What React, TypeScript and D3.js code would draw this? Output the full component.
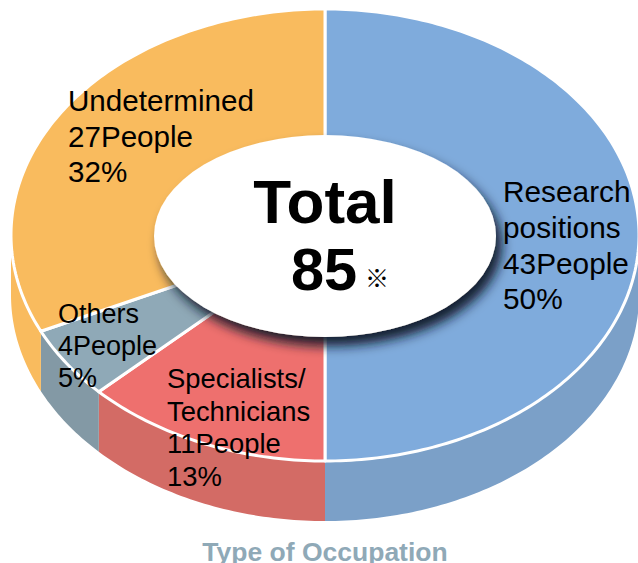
import React from "react";
import * as d3 from "d3";

const categories = ["Research", "Specialists", "Others", "Undetermined"];
const shares = [50, 12.8, 5.2, 32];
const topColors = ["#7FABDC", "#EE706E", "#8FA9B7", "#F9BB5E"];
const sideColors = ["#7BA0C8", "#D36B65", "#8399A5", "#F9BB5E"];
const labelLines = [
  ["Research", "positions", "43People", "50%"],
  ["Specialists/", "Technicians", "11People", "13%"],
  ["Others", "4People", "5%"],
  ["Undetermined", "27People", "32%"],
];
const labelPos = [
  { x: 503, y: 202, size: 29.8, lh: 35.8 },
  { x: 167, y: 388, size: 27.4, lh: 32.5 },
  { x: 58, y: 323, size: 27, lh: 32 },
  { x: 68, y: 111, size: 29.6, lh: 35.5 },
];
const total = "85";

const cx = 325, cy = 235, rx = 314, ry = 226, depth = 60;
const innerRx = 171, innerRy = 101, innerCy = 236;
const font = "'Liberation Sans', Arial, Helvetica, sans-serif";

const pieGen = d3.pie<number>().sort(null).value((d) => d);
const arcs = pieGen(shares);
const pt = (a: number, dy = 0): [number, number] => [
  cx + rx * Math.sin(a),
  cy - ry * Math.cos(a) + dy,
];
const lineGen = d3.line();

function topPath(a0: number, a1: number) {
  const n = Math.max(2, Math.ceil((a1 - a0) * 60));
  const pts = d3.range(n + 1).map((i) => pt(a0 + ((a1 - a0) * i) / n));
  return lineGen([[cx, cy], ...pts]) + "Z";
}
function sidePath(a0: number, a1: number) {
  const s = Math.max(a0, Math.PI / 2);
  const e = Math.min(a1, (3 * Math.PI) / 2);
  if (e <= s) return "";
  const n = Math.max(2, Math.ceil((e - s) * 60));
  const as = d3.range(n + 1).map((i) => s + ((e - s) * i) / n);
  const pts = [...as.map((a) => pt(a)), ...as.slice().reverse().map((a) => pt(a, depth))];
  return lineGen(pts) + "Z";
}

export default function App() {
  return (
    <svg
      width={638}
      height={563}
      viewBox="0 0 638 563"
      style={{ position: "absolute", left: 0, top: 0, display: "block", background: "#fff" }}
      fontFamily={font}
    >
      <defs>
        <filter id="shadow" x="-20%" y="-20%" width="150%" height="160%">
          <feDropShadow dx="6" dy="9" stdDeviation="6" floodColor="#0A1626" floodOpacity="0.95" />
        </filter>
      </defs>
      {arcs.map((d, i) => (
        <path key={"s" + categories[i]} d={sidePath(d.startAngle, d.endAngle)} fill={sideColors[i]} />
      ))}
      {arcs.map((d, i) => (
        <path
          key={"t" + categories[i]}
          d={topPath(d.startAngle, d.endAngle)}
          fill={topColors[i]}
          stroke="#fff"
          strokeWidth={3}
          strokeLinejoin="round"
        />
      ))}
      <ellipse cx={cx} cy={innerCy} rx={innerRx} ry={innerRy} fill="#fff" filter="url(#shadow)" />
      {labelLines.map((lines, i) => (
        <text key={categories[i]} fontSize={labelPos[i].size} fill="#000">
          {lines.map((t, j) => (
            <tspan key={j} x={labelPos[i].x} y={labelPos[i].y + j * labelPos[i].lh}>
              {t}
            </tspan>
          ))}
        </text>
      ))}
      <text x={325} y={223} textAnchor="middle" fontSize={62} fontWeight={700}>Total</text>
      <text x={291} y={290} fontSize={59.5} fontWeight={700}>{total}</text>
      <text x={365} y={287} fontSize={24} fontFamily="'Noto Sans CJK JP', sans-serif">※</text>
      <text x={325} y={561} textAnchor="middle" fontSize={26.5} fontWeight={700} fill="#8FA9B7">Type of Occupation</text>
    </svg>
  );
}
